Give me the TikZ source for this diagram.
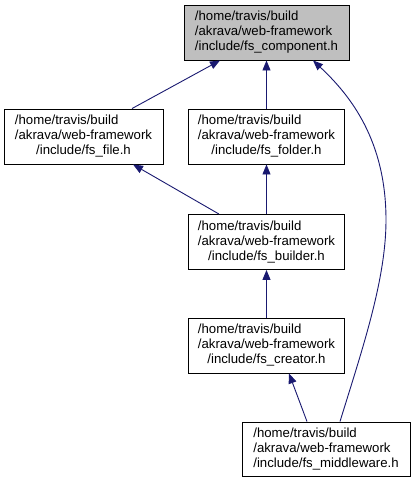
\documentclass[tikz,border=0pt]{standalone}
\usepackage{fontspec}
\setmainfont{Liberation Sans}
\usetikzlibrary{arrows.meta}
\definecolor{edgeblue}{HTML}{191970}
\definecolor{rootgray}{HTML}{BFBFBF}
\newcommand\dlabel[1]{\begin{tabular}{@{}l@{}}/home/travis/build\\/akrava/web-framework\\\multicolumn{1}{@{}c@{}}{/include/#1}\end{tabular}}
\tikzset{
  filebox/.style={draw=black, fill=white, line width=0.9pt, inner sep=0pt, minimum height=55pt,
    font=\fontsize{13.2}{15}\selectfont},
  rootbox/.style={filebox, fill=rootgray},
  dep/.style={draw=edgeblue, line width=0.9pt, {Triangle[length=10pt,width=8pt]}-}
}
\begin{document}
\begin{tikzpicture}[x=1pt,y=-1pt]
\useasboundingbox (0,0) rectangle (413,483);
\node[rootbox, minimum width=165pt] (comp) at (266.5,32.5) {\dlabel{fs\_component.h}};
\node[filebox, minimum width=159pt] (file) at (83.5,136.5) {\dlabel{fs\_file.h}};
\node[filebox, minimum width=156pt] (folder) at (266.5,136.5) {\dlabel{fs\_folder.h}};
\node[filebox, minimum width=156pt] (builder) at (266.5,242) {\dlabel{fs\_builder.h}};
\node[filebox, minimum width=156pt] (creator) at (266.5,345.5) {\dlabel{fs\_creator.h}};
\node[filebox, minimum width=168pt, minimum height=54pt] (mw) at (326,449) {\dlabel{fs\_middleware.h}};
\draw[dep] ([xshift=-46.5pt]comp.south) -- ([xshift=48.5pt]file.north);
\draw[dep] (comp.south) -- (folder.north);
\draw[dep] ([xshift=46.5pt]comp.south) .. controls (350,95) and (386,140) .. (386,220)
  .. controls (386,280) and (362,350) .. ([xshift=14pt]mw.north);
\draw[dep] ([xshift=49.5pt]file.south) -- ([xshift=-47.5pt]builder.north);
\draw[dep] (folder.south) -- (builder.north);
\draw[dep] (builder.south) -- (creator.north);
\draw[dep] ([xshift=22.5pt]creator.south) -- ([xshift=-19pt]mw.north);
\end{tikzpicture}
\end{document}
